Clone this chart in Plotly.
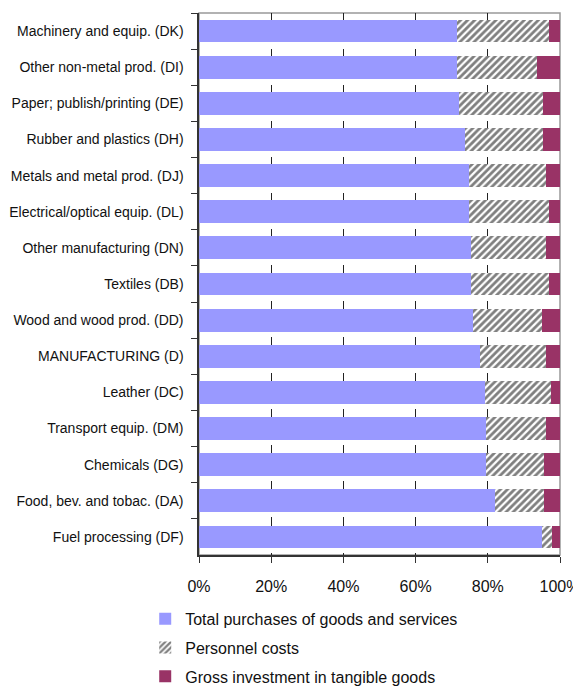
import plotly.graph_objects as go

categories = [
    "Machinery and equip. (DK)",
    "Other non-metal prod. (DI)",
    "Paper; publish/printing (DE)",
    "Rubber and plastics (DH)",
    "Metals and metal prod. (DJ)",
    "Electrical/optical equip. (DL)",
    "Other manufacturing (DN)",
    "Textiles (DB)",
    "Wood and wood prod. (DD)",
    "MANUFACTURING (D)",
    "Leather (DC)",
    "Transport equip. (DM)",
    "Chemicals (DG)",
    "Food, bev. and tobac. (DA)",
    "Fuel processing (DF)",
]
purchases = [71.5, 71.5, 71.9, 73.6, 74.7, 74.7, 75.3, 75.3, 75.8, 77.8, 79.2, 79.5, 79.5, 82.0, 94.9]
personnel = [25.4, 22.1, 23.4, 21.7, 21.3, 22.2, 20.7, 21.6, 19.1, 18.2, 18.2, 16.5, 16.0, 13.5, 2.8]
investment = [3.1, 6.4, 4.7, 4.7, 4.0, 3.1, 4.0, 3.1, 5.1, 4.0, 2.6, 4.0, 4.5, 4.5, 2.3]
x_ticks = [0, 20, 40, 60, 80, 100]

FONT = "Liberation Sans, Arial, sans-serif"

fig = go.Figure()
fig.add_trace(go.Bar(
    y=categories, x=purchases, orientation="h",
    name="Total purchases of goods and services",
    marker=dict(color="#9999FF", line=dict(width=0)),
    legend="legend",
))
fig.add_trace(go.Bar(
    y=categories, x=personnel, orientation="h",
    name="Personnel costs",
    marker=dict(color="white", line=dict(width=0),
                pattern=dict(shape="/", fgcolor="black", bgcolor="white",
                             size=5, solidity=0.55)),
    legend="legend2",
))
fig.add_trace(go.Bar(
    y=categories, x=investment, orientation="h",
    name="Gross investment in tangible goods",
    marker=dict(color="#993366", line=dict(width=0)),
    legend="legend3",
))

leg_common = dict(orientation="v", x=-0.149, xanchor="left", yanchor="middle",
                  font=dict(size=16), itemwidth=30, bgcolor="rgba(0,0,0,0)",
                  borderwidth=0)

fig.update_layout(
    width=573, height=678,
    barmode="stack", barnorm="percent",
    bargap=0.37,
    paper_bgcolor="white", plot_bgcolor="white",
    margin=dict(l=191, r=21, t=5, b=131, autoexpand=False),
    font=dict(family=FONT, size=14, color="#111111"),
    showlegend=True,
    legend=dict(y=-0.118, **leg_common),
    legend2=dict(y=-0.171, **leg_common),
    legend3=dict(y=-0.224, **leg_common),
    shapes=[dict(type="rect", xref="paper", yref="paper", x0=0, x1=1, y0=0, y1=1,
                 line=dict(color="#999999", width=1.5), layer="below")],
)
fig.update_xaxes(
    range=[0, 100], tickvals=x_ticks, ticktext=[f"{v}%" for v in x_ticks],
    showgrid=True, gridcolor="#222222", griddash="dash", gridwidth=1,
    showline=True, linecolor="#333333", linewidth=1.5,
    ticks="outside", ticklen=6, tickcolor="#333333", zeroline=False,
    tickfont=dict(size=16), automargin=False, ticklabelstandoff=10,
)
fig.update_yaxes(
    categoryorder="array", categoryarray=categories, autorange="reversed",
    showline=True, linecolor="#333333", linewidth=1.5,
    ticks="outside", ticklen=6, tickcolor="#333333", tickson="boundaries",
    showgrid=False, ticksuffix=" ", ticklabelstandoff=7, automargin=False,
)

fig.write_html("out.html")
